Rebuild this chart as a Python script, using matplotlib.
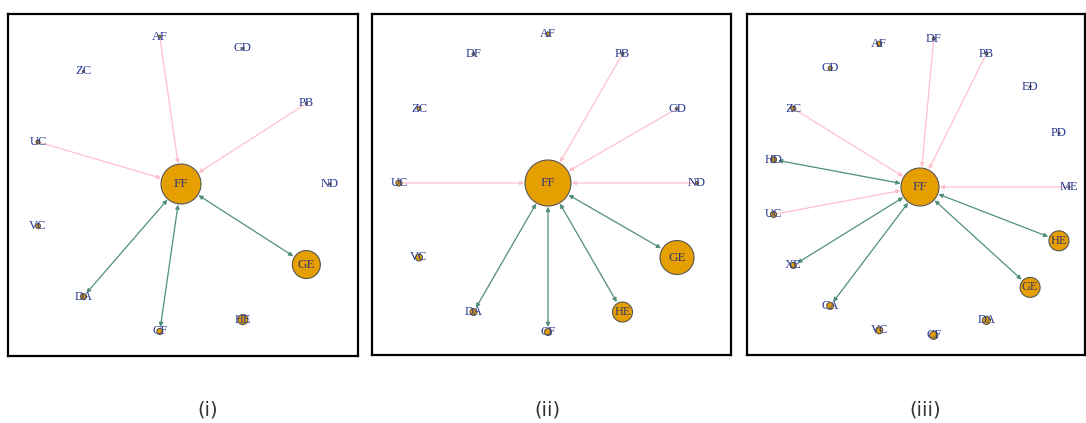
import numpy as np
import matplotlib.pyplot as plt
from matplotlib.patches import Circle, FancyArrowPatch

# panel (i): nodes counter-clockwise from the right, FF in the middle
nodes_1 = ["ND", "PB", "GD", "AF", "ZC", "UC", "VC", "DA", "CF", "HE", "GE"]
size_1 = {"FF": 400, "GE": 196, "HE": 25, "DA": 9, "CF": 9, "VC": 6, "UC": 4,
          "AF": 2, "ZC": 1, "GD": 1, "PB": 1, "ND": 1}
in_1 = ["AF", "PB", "UC"]
both_1 = ["DA", "CF", "GE"]

# panel (ii)
nodes_2 = ["ND", "GD", "PB", "AF", "DF", "ZC", "UC", "VC", "DA", "CF", "HE", "GE"]
size_2 = {"FF": 529, "GE": 289, "HE": 100, "DA": 12, "CF": 12, "VC": 12, "UC": 9,
          "ZC": 4, "AF": 4, "PB": 2, "GD": 2, "ND": 2, "DF": 2}
in_2 = ["PB", "GD", "UC", "ND"]
both_2 = ["DA", "CF", "HE", "GE"]

# panel (iii)
nodes_3 = ["ME", "PD", "ED", "PB", "DF", "AF", "CD", "ZC", "HD", "UC", "XE", "CA",
           "VC", "CF", "DA", "GE", "HE"]
size_3 = {"FF": 361, "HE": 100, "GE": 100, "DA": 16, "CF": 16, "VC": 12, "CA": 12,
          "XE": 9, "UC": 9, "HD": 9, "ZC": 6, "AF": 6, "CD": 4, "DF": 2, "PB": 2,
          "ED": 1, "PD": 1, "ME": 1}
in_3 = ["DF", "PB", "ZC", "UC", "ME"]
both_3 = ["HD", "XE", "CA", "HE", "GE"]

captions = ["(i)", "(ii)", "(iii)"]

W, H = 1086, 423
R = 149.0  # star radius in pixels

fig = plt.figure(figsize=(W / 100, H / 100), dpi=100)

# pixel boxes of the panels and the centre node inside them
boxes = [(8, 14, 358, 356, 181, 184), (372, 14, 731, 355, 548, 183),
         (747, 14, 1085, 355, 920, 187)]
cap_x = [208, 547, 925]

panels = [(nodes_1, size_1, in_1, both_1), (nodes_2, size_2, in_2, both_2),
          (nodes_3, size_3, in_3, both_3)]

pink = "#FFC0CB"
green = "#4F8F7C"
lab_col = "#2A3A90"

for k, (nodes, sizes, ins, boths) in enumerate(panels):
    x0, y0, x1, y1, cx, cy = boxes[k]
    w, h = x1 - x0, y1 - y0
    ax = fig.add_axes([x0 / W, 1 - y1 / H, w / W, h / H])
    ax.set_xlim(-(cx - x0) / R, (x1 - cx) / R)
    ax.set_ylim(-(y1 - cy) / R, (cy - y0) / R)
    ax.set_xticks([])
    ax.set_yticks([])
    for s in ax.spines.values():
        s.set_linewidth(1.6)
        s.set_color("black")

    # star layout
    n = len(nodes)
    ang = np.arange(n) * 2 * np.pi / n
    pos = {"FF": (0.0, 0.0)}
    for a, nm in zip(ang, nodes):
        pos[nm] = (np.cos(a), np.sin(a))
    rad = {nm: np.sqrt(v) / R for nm, v in sizes.items()}

    for nm in ins + boths:
        p0 = np.array(pos[nm])
        d = -p0 / np.linalg.norm(p0)
        a = p0 + d * (rad[nm] + 0.01)
        b = np.array([0.0, 0.0]) - d * (rad["FF"] + 0.005)
        if nm in ins:
            arr = FancyArrowPatch(a, b, arrowstyle="-|>", mutation_scale=6,
                                  color=pink, lw=0.9, shrinkA=0, shrinkB=0)
        else:
            arr = FancyArrowPatch(a, b, arrowstyle="<|-|>", mutation_scale=6,
                                  color=green, lw=0.9, shrinkA=0, shrinkB=0)
        ax.add_patch(arr)

    for nm, (px, py) in pos.items():
        ax.add_patch(Circle((px, py), rad[nm], facecolor="#E69F00",
                            edgecolor="#555555", lw=0.8, zorder=3))
        big = rad[nm] * R > 8
        col = "#3B3B6B" if big else lab_col
        fs = 9.5 if rad[nm] * R > 12 else 9
        ax.text(px, py, nm, ha="center", va="center", fontsize=fs,
                family="Liberation Serif", color=col, zorder=4)

    fig.text(cap_x[k] / W, 1 - 410 / H, captions[k], ha="center", va="center",
             fontsize=14, color="#333333", family="DejaVu Sans")

plt.savefig("out.png", dpi=100)
